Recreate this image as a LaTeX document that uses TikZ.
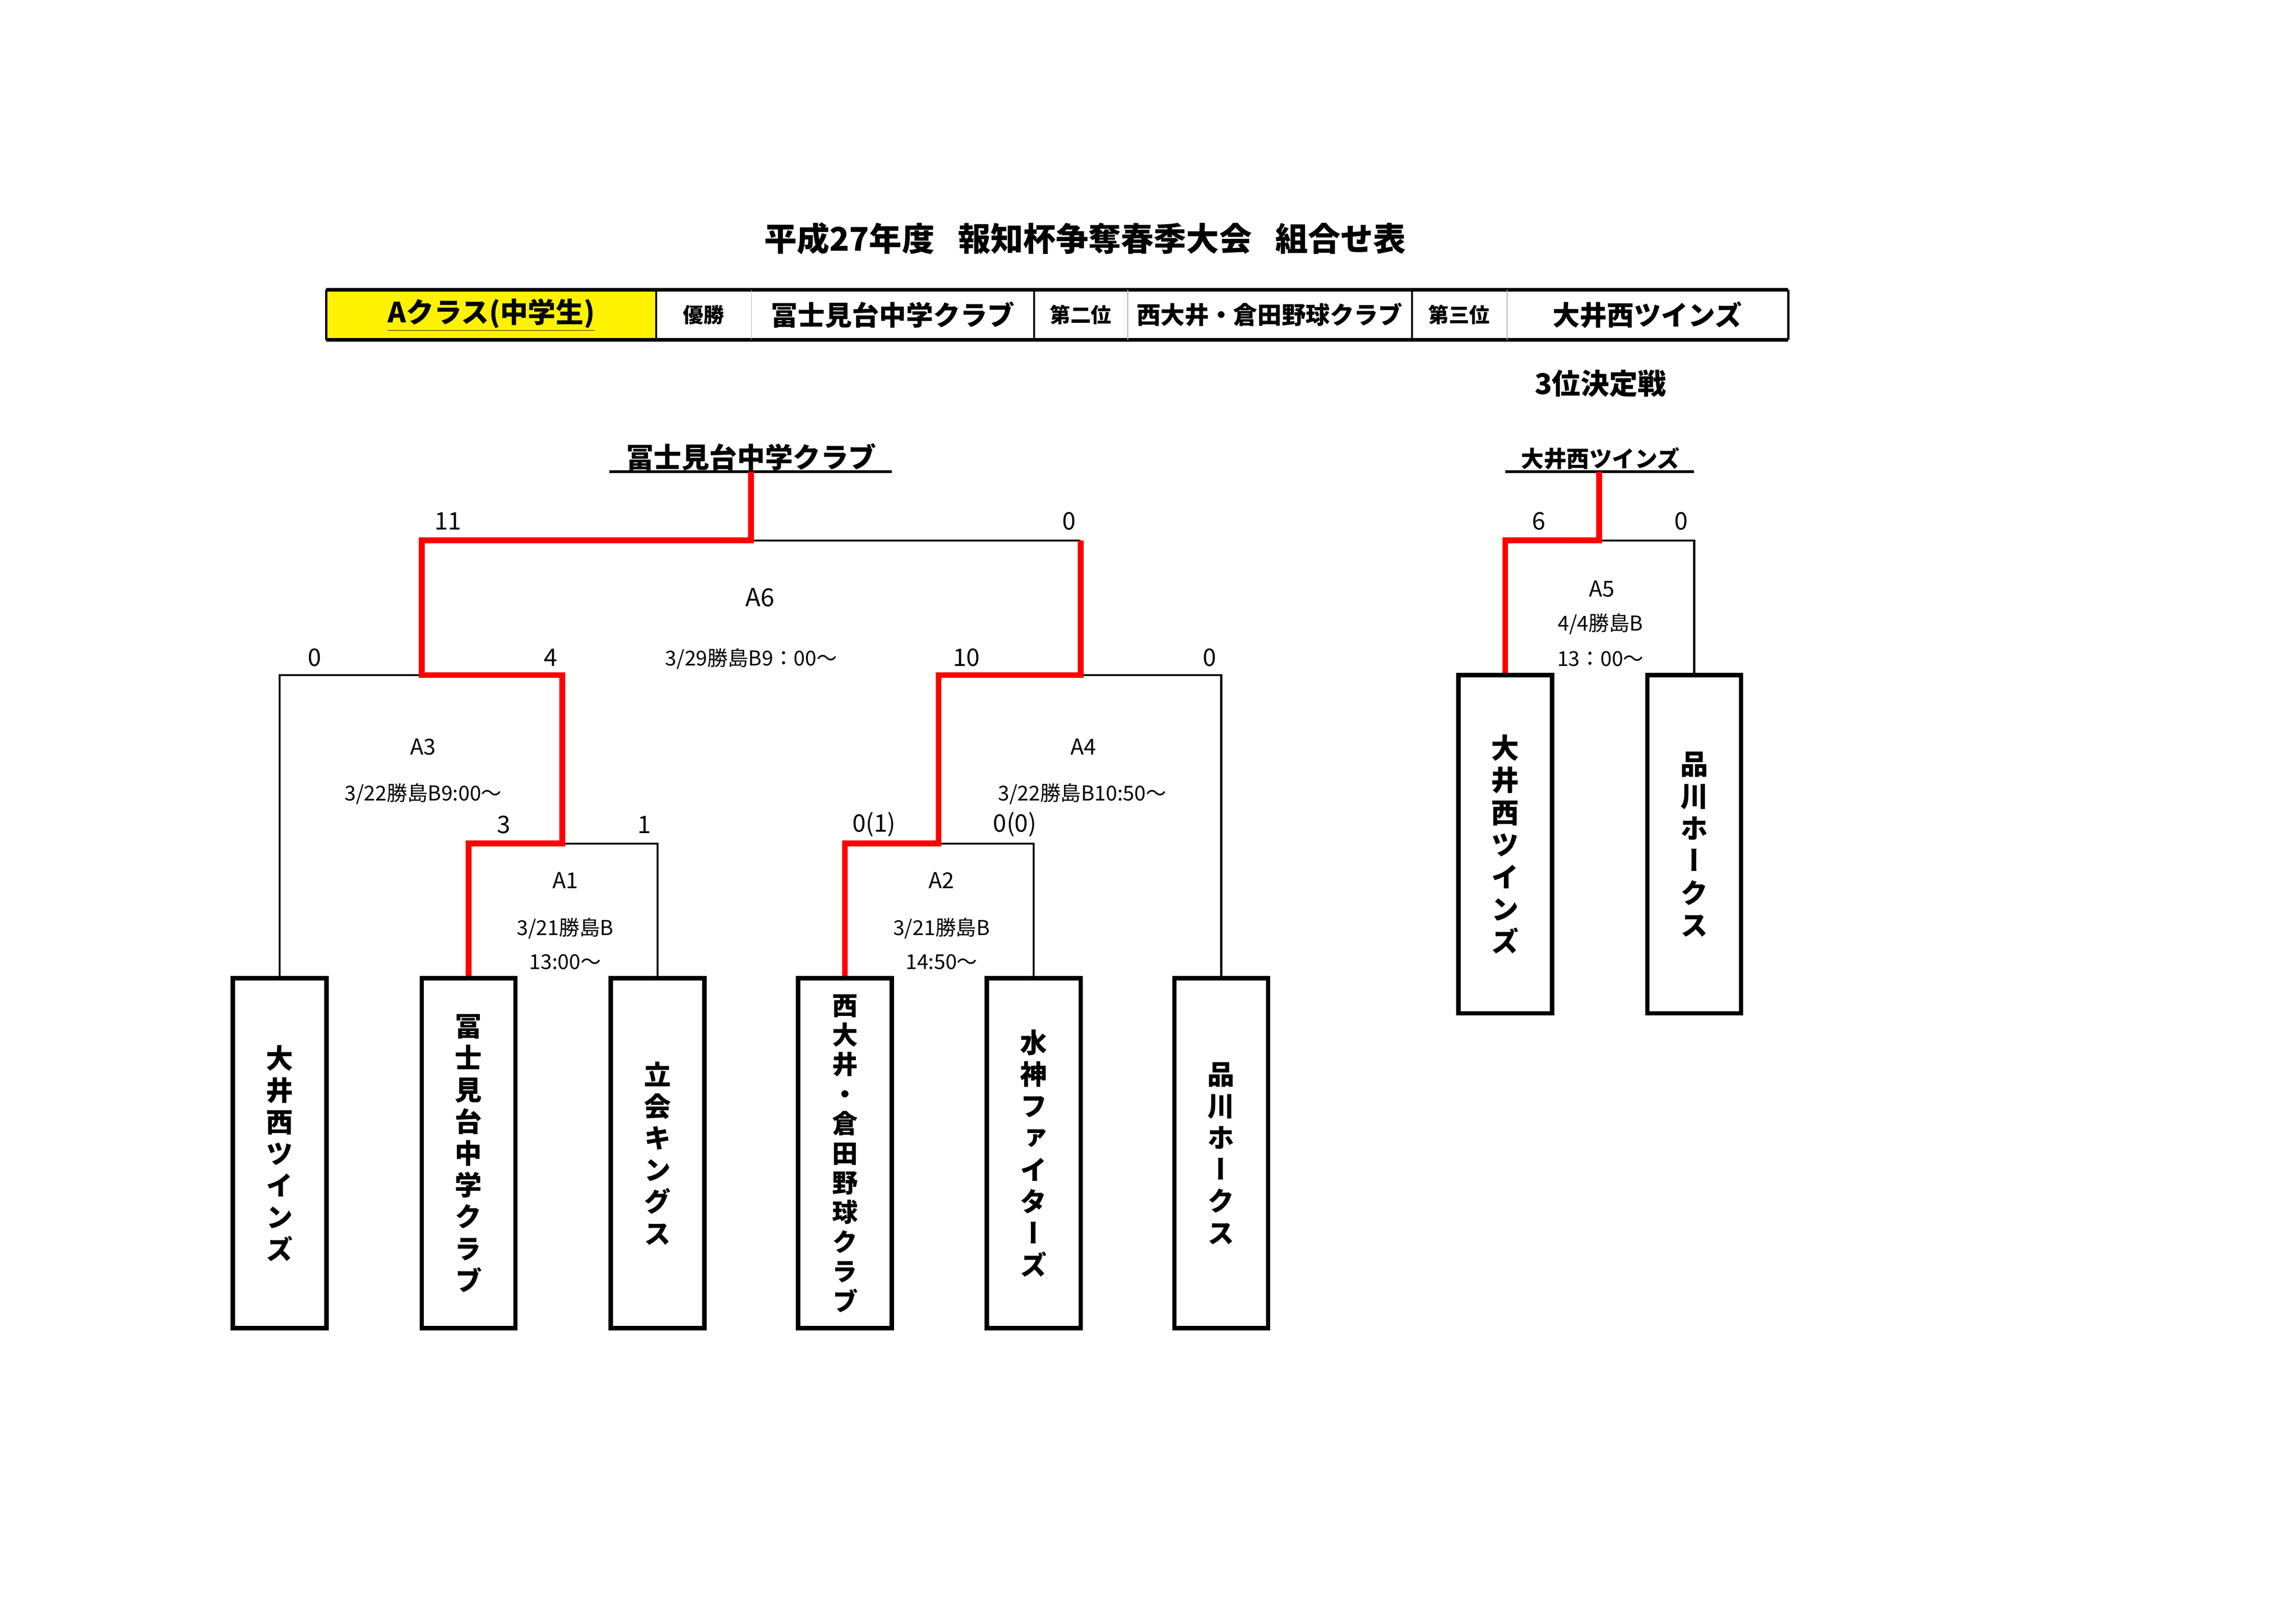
\documentclass[tikz,border=0pt]{standalone}
\usepackage{fontspec}
\setmainfont{Noto Sans CJK JP}
\newfontfamily\vjp{Noto Sans CJK JP}[RawFeature=+vert]
\begin{document}
\begin{tikzpicture}[x=1pt,y=-1pt,
  thin/.style={line width=1.3pt,black},
  win/.style={line width=4pt,red,line join=miter},
  team/.style={draw,line width=3pt,minimum width=64pt,minimum height=239pt,inner sep=0pt,
    font=\vjp\bfseries\fontsize{18.5}{21.7}\selectfont,align=center},
  team3/.style={team,minimum height=231pt,font=\vjp\bfseries\fontsize{19}{22}\selectfont},
  cell/.style={minimum height=34pt,inner sep=0pt},
  score/.style={inner sep=0pt,font=\fontsize{16.5}{16.5}\selectfont},
  info/.style={inner sep=0pt,font=\fontsize{14}{14}\selectfont},
  gname/.style={inner sep=0pt,font=\fontsize{17}{17}\selectfont}]
\useasboundingbox (0,0) rectangle (1568,1108);

% title
\node[inner sep=0pt,font=\bfseries\fontsize{22.3}{22.3}\selectfont] (title) at (741,163) {平成27年度\hspace{16pt}報知杯争奪春季大会\hspace{16pt}組合せ表};

% header table
\node[cell,fill=yellow,minimum width=225pt,font=\bfseries\fontsize{19}{19}\selectfont] (h1) at (335.5,215) {\underline{Aクラス(中学生)}};
\node[cell,minimum width=65pt,font=\bfseries\fontsize{14}{14}\selectfont] (h2) at (480.5,215) {優勝};
\node[cell,minimum width=193pt,font=\bfseries\fontsize{18.5}{18.5}\selectfont] (h3) at (609.5,215) {冨士見台中学クラブ};
\node[cell,minimum width=64pt,font=\bfseries\fontsize{14}{14}\selectfont] (h4) at (738,215) {第二位};
\node[cell,minimum width=194pt,font=\bfseries\fontsize{16.5}{16.5}\selectfont] (h5) at (867,215) {西大井・倉田野球クラブ};
\node[cell,minimum width=65pt,font=\bfseries\fontsize{14}{14}\selectfont] (h6) at (996.5,215) {第三位};
\node[cell,minimum width=192pt,font=\bfseries\fontsize{18.5}{18.5}\selectfont] (h7) at (1125,215) {大井西ツインズ};
\draw[line width=1.5pt] (h1.north west) -- (h1.south west) (h7.north east) -- (h7.south east);
\draw[line width=2.5pt] (h1.north west) -- (h7.north east) (h1.south west) -- (h7.south east);
\foreach \c in {h1,h3,h5} \draw[line width=1.3pt] (\c.north east) -- (\c.south east);
\foreach \c in {h2,h4,h6} \draw[line width=0.6pt,gray!60] (\c.north east) -- (\c.south east);

% 3rd place heading
\node[inner sep=0pt,font=\bfseries\fontsize{19.5}{19.5}\selectfont] (third) at (1093,262) {3位決定戦};

% winners
\node[inner sep=0pt,font=\bfseries\fontsize{19}{19}\selectfont] (champ) at (513,312) {冨士見台中学クラブ};
\coordinate (u1l) at (416,322); \coordinate (u1r) at (609,322); \coordinate (t0) at (513,322);
\draw[line width=2pt] (u1l) -- (u1r);
\node[inner sep=0pt,font=\bfseries\fontsize{15.5}{15.5}\selectfont] (champ3) at (1093,313) {大井西ツインズ};
\coordinate (u2l) at (1028,322); \coordinate (u2r) at (1157,322); \coordinate (t1) at (1092,322);
\draw[line width=2pt] (u2l) -- (u2r);

% team boxes
\node[team] (b1) at (191,787.5) {大\\井\\西\\ツ\\イ\\ン\\ズ};
\node[team] (b2) at (320,787.5) {冨\\士\\見\\台\\中\\学\\ク\\ラ\\ブ};
\node[team] (b3) at (449,787.5) {立\\会\\キ\\ン\\グ\\ス};
\node[team,font=\vjp\bfseries\fontsize{17.5}{20.2}\selectfont] (b4) at (577,787.5) {西\\大\\井\\・\\倉\\田\\野\\球\\ク\\ラ\\ブ};
\node[team] (b5) at (706,787.5) {水\\神\\フ\\ァ\\イ\\タ\\ー\\ズ};
\node[team] (b6) at (834,787.5) {品\\川\\ホ\\ー\\ク\\ス};
\node[team3] (b7) at (1028,576.5) {大\\井\\西\\ツ\\イ\\ン\\ズ};
\node[team3] (b8) at (1157,576.5) {品\\川\\ホ\\ー\\ク\\ス};

% bracket coordinates
\coordinate (f0) at (513,369); \coordinate (fl) at (288,369); \coordinate (fr) at (738,369);
\coordinate (s3a) at (191,461); \coordinate (s3m) at (288,461); \coordinate (s3b) at (384,461);
\coordinate (s4a) at (641,461); \coordinate (s4m) at (738,461); \coordinate (s4b) at (834,461);
\coordinate (q1a) at (320,576); \coordinate (q1m) at (384,576); \coordinate (q1b) at (449,576);
\coordinate (q2a) at (577,576); \coordinate (q2m) at (641,576); \coordinate (q2b) at (706,576);
\coordinate (p0) at (1092,369); \coordinate (pl) at (1028,369); \coordinate (pr) at (1157,369);

% black lines
\draw[thin] (f0) -- (fr);
\draw[thin] (s3m) -- (s3a) -- (b1.north);
\draw[thin] (s4m) -- (s4b) -- (b6.north);
\draw[thin] (q1m) -- (q1b) -- (b3.north);
\draw[thin] (q2m) -- (q2b) -- (b5.north);
\draw[thin] (p0) -- (pr) -- (b8.north);

% red winning paths
\draw[win] (t0) -- (f0) -- (fl) -- (s3m) -- (s3b) -- (q1m) -- (q1a) -- (b2.north);
\draw[win] (fr) -- (s4m) -- (s4a) -- (q2m) -- (q2a) -- (b4.north);
\draw[win] (t1) -- (p0) -- (pl) -- (b7.north);

% scores
\node[score] (sc1) at (306,356) {11};
\node[score] (sc2) at (730,356) {0};
\node[score] (sc3) at (215,449) {0};
\node[score] (sc4) at (376,449) {4};
\node[score] (sc5) at (660,449) {10};
\node[score] (sc6) at (826,449) {0};
\node[score] (sc7) at (344,563) {3};
\node[score] (sc8) at (440,563) {1};
\node[score] (sc9) at (597,563) {0(1)};
\node[score] (sc10) at (693,563) {0(0)};
\node[score] (sc11) at (1051,356) {6};
\node[score] (sc12) at (1148,356) {0};

% game info
\node[gname] (g6) at (519,408) {A6};
\node[info] (i6) at (513,450) {3/29勝島B9：00～};
\node[gname,font=\fontsize{15}{15}\selectfont] (g3) at (289,510) {A3};
\node[info] (i3) at (289,542) {3/22勝島B9:00～};
\node[gname,font=\fontsize{15}{15}\selectfont] (g4) at (740,510) {A4};
\node[info] (i4) at (739,542) {3/22勝島B10:50～};
\node[gname,font=\fontsize{15}{15}\selectfont] (g1) at (386,601) {A1};
\node[info] (i1a) at (386,634) {3/21勝島B};
\node[info] (i1b) at (386,657) {13:00～};
\node[gname,font=\fontsize{15}{15}\selectfont] (g2) at (643,601) {A2};
\node[info] (i2a) at (643,634) {3/21勝島B};
\node[info] (i2b) at (643,657) {14:50～};
\node[gname,font=\fontsize{15}{15}\selectfont] (g5) at (1094,402) {A5};
\node[info] (i5a) at (1093,426) {4/4勝島B};
\node[info] (i5b) at (1093,450) {13：00～};
\end{tikzpicture}
\end{document}
